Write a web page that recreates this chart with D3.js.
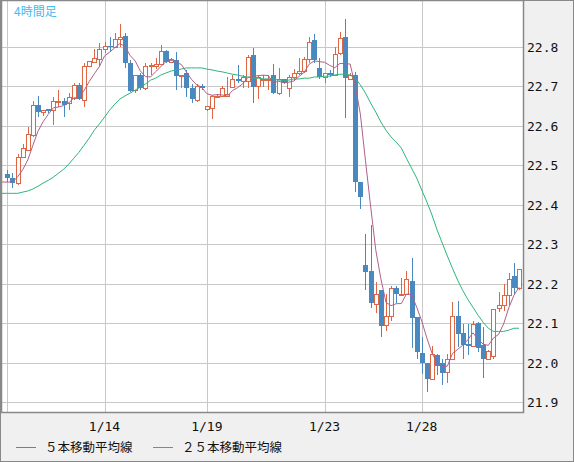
<!DOCTYPE html>
<html><head><meta charset="utf-8">
<script src="https://cdn.jsdelivr.net/npm/d3@7"></script>
<style>body{margin:0;background:#f0f0f0}svg{display:block}</style>
</head><body>
<script>
const opens  = [22.478,22.468,22.455,22.52,22.54,22.578,22.653,22.635,22.643,22.64,22.66,22.663,22.658,22.67,22.703,22.665,22.752,22.762,22.77,22.795,22.803,22.8,22.82,22.828,22.76,22.69,22.728,22.696,22.752,22.753,22.756,22.79,22.762,22.768,22.728,22.735,22.695,22.665,22.7,22.643,22.645,22.675,22.675,22.675,22.698,22.72,22.713,22.715,22.78,22.7,22.72,22.718,22.73,22.683,22.718,22.695,22.725,22.735,22.74,22.77,22.817,22.748,22.723,22.733,22.73,22.785,22.825,22.72,22.728,22.457,22.248,22.232,22.148,22.183,22.095,22.118,22.188,22.172,22.175,22.208,22.115,22.025,22.0,21.958,22.02,21.998,21.975,22.01,22.118,22.075,22.047,22.043,22.1,22.045,22.01,22.017,22.138,22.145,22.172,22.22,22.19];
const highs  = [22.488,22.48,22.53,22.553,22.598,22.663,22.675,22.64,22.643,22.673,22.69,22.67,22.683,22.71,22.71,22.76,22.765,22.795,22.81,22.813,22.825,22.835,22.858,22.835,22.767,22.728,22.735,22.76,22.76,22.772,22.805,22.792,22.772,22.788,22.73,22.742,22.705,22.705,22.705,22.65,22.678,22.68,22.7,22.725,22.728,22.755,22.728,22.78,22.797,22.73,22.728,22.73,22.757,22.748,22.72,22.73,22.745,22.772,22.775,22.825,22.832,22.772,22.733,22.742,22.8,22.838,22.872,22.735,22.736,22.458,22.325,22.35,22.205,22.183,22.173,22.195,22.193,22.215,22.232,22.265,22.115,22.065,22.0,22.042,22.022,22.01,22.022,22.153,22.157,22.097,22.097,22.105,22.103,22.09,22.033,22.135,22.178,22.2,22.227,22.253,22.238];
const lows   = [22.458,22.442,22.45,22.518,22.54,22.572,22.622,22.625,22.633,22.602,22.648,22.622,22.64,22.665,22.665,22.648,22.75,22.76,22.75,22.785,22.788,22.797,22.8,22.747,22.685,22.683,22.69,22.69,22.73,22.745,22.755,22.76,22.76,22.69,22.695,22.673,22.657,22.66,22.69,22.638,22.617,22.673,22.673,22.672,22.695,22.71,22.695,22.695,22.658,22.667,22.698,22.69,22.68,22.678,22.705,22.673,22.715,22.73,22.735,22.76,22.76,22.72,22.71,22.723,22.727,22.78,22.62,22.718,22.432,22.39,22.183,22.138,22.125,22.065,22.08,22.105,22.152,22.172,22.172,22.038,22.01,21.972,21.925,21.958,21.968,21.942,21.947,22.008,22.04,22.01,22.018,22.04,22.028,21.96,22.008,22.008,22.127,22.13,22.147,22.173,22.185];
const closes = [22.468,22.455,22.52,22.545,22.58,22.653,22.635,22.64,22.638,22.663,22.663,22.653,22.673,22.703,22.668,22.752,22.765,22.772,22.795,22.803,22.8,22.82,22.825,22.76,22.688,22.728,22.696,22.753,22.755,22.756,22.79,22.762,22.77,22.727,22.73,22.695,22.668,22.7,22.695,22.65,22.675,22.677,22.695,22.68,22.72,22.713,22.725,22.775,22.698,22.725,22.72,22.72,22.683,22.718,22.708,22.725,22.735,22.74,22.77,22.812,22.767,22.725,22.733,22.73,22.782,22.822,22.722,22.728,22.457,22.42,22.23,22.15,22.173,22.092,22.118,22.188,22.175,22.175,22.213,22.113,22.027,21.998,21.958,22.022,21.992,21.973,22.01,22.118,22.073,22.045,22.043,22.098,22.037,22.01,22.03,22.135,22.145,22.17,22.213,22.188,22.238];
const priorCloses = [22.455,22.455,22.455,22.455];
const ma25 = [22.429,22.429,22.429,22.432,22.435,22.44,22.447,22.455,22.462,22.47,22.48,22.49,22.503,22.518,22.533,22.551,22.569,22.589,22.605,22.622,22.64,22.655,22.668,22.676,22.683,22.691,22.698,22.706,22.716,22.721,22.729,22.734,22.739,22.742,22.744,22.747,22.747,22.747,22.747,22.744,22.742,22.739,22.737,22.734,22.731,22.729,22.726,22.724,22.721,22.721,22.719,22.719,22.719,22.716,22.716,22.716,22.719,22.719,22.721,22.721,22.724,22.724,22.726,22.726,22.729,22.731,22.731,22.729,22.721,22.704,22.683,22.658,22.635,22.61,22.589,22.572,22.559,22.544,22.518,22.493,22.468,22.437,22.407,22.374,22.336,22.303,22.27,22.239,22.209,22.183,22.16,22.14,22.12,22.102,22.087,22.079,22.079,22.079,22.082,22.087,22.087];
const xTickIdx = [0,19,39,62,81];
const xTickLabels = ["","1/14","1/19","1/23","1/28"];
const yTicks = [21.9,22.0,22.1,22.2,22.3,22.4,22.5,22.6,22.7,22.8];

const W=574,H=462, L=2,T=1,R=523,B=412;
const svg=d3.select("body").append("svg").attr("width",W).attr("height",H);
svg.append("rect").attr("width",W).attr("height",H).attr("fill","#f0f0f0");
svg.append("rect").attr("x",0.5).attr("y",0.5).attr("width",W-1).attr("height",H-1).attr("fill","none").attr("stroke","#888");
svg.append("rect").attr("x",L).attr("y",T).attr("width",R-L).attr("height",B-T).attr("fill","#fff");
const x=d3.scaleLinear().domain([0,100]).range([7.3,519]);
const y=d3.scaleLinear().domain([21.9,22.8]).range([402,47]);
const g=svg.append("g").attr("shape-rendering","crispEdges");
g.selectAll(".hg").data(yTicks).join("line").attr("x1",L).attr("x2",R)
 .attr("y1",d=>Math.round(y(d))+0.5).attr("y2",d=>Math.round(y(d))+0.5).attr("stroke","#c8c8c8");
g.selectAll(".vg").data(xTickIdx).join("line").attr("y1",T).attr("y2",B)
 .attr("x1",d=>Math.round(x(d))+0.5).attr("x2",d=>Math.round(x(d))+0.5).attr("stroke","#c8c8c8");

// candles
const idx=d3.range(closes.length);
const up="#dd6644", dn="#4a88c0";
idx.forEach(i=>{
  const cx=Math.round(x(i))+0.5, isUp=closes[i]>=opens[i], col=isUp?up:dn;
  g.append("line").attr("x1",cx).attr("x2",cx).attr("y1",y(highs[i])).attr("y2",y(lows[i])).attr("stroke",col);
  const top=Math.round(y(Math.max(opens[i],closes[i]))), bot=Math.round(y(Math.min(opens[i],closes[i])));
  if(isUp){
    g.append("rect").attr("x",cx-2).attr("y",top+0.5).attr("width",4).attr("height",Math.max(1,bot-top)).attr("fill","#fff").attr("stroke",col);
  } else {
    g.append("rect").attr("x",cx-2.5).attr("y",top).attr("width",5).attr("height",Math.max(1,bot-top)).attr("fill",col);
  }
});
// MAs
const all=priorCloses.concat(closes);
const ma5=idx.map(i=>d3.mean(all.slice(i,i+5)));
const line=d3.line().x(d=>d[0]).y(d=>d[1]);
const pts=a=>[[L,y(a[0])]].concat(a.map((v,i)=>[x(i),y(v)]));
svg.append("path").attr("d",line(pts(ma25))).attr("fill","none").attr("stroke","#2db57a").attr("stroke-width",1);
svg.append("path").attr("d",line(pts(ma5))).attr("fill","none").attr("stroke","#b0608a").attr("stroke-width",1);

// plot border
svg.append("rect").attr("x",L-0.5).attr("y",T-0.5).attr("width",R-L+1).attr("height",B-T+1).attr("fill","none").attr("stroke","#888").attr("stroke-width",1.5);

const mono="'DejaVu Sans Mono', monospace";
svg.selectAll(".yl").data(yTicks).join("text").attr("x",527).attr("y",d=>y(d)+5)
 .attr("font-family",mono).attr("font-size",13).attr("fill","#111").text(d=>d.toFixed(1));
svg.selectAll(".xl").data(xTickIdx).join("text").attr("x",d=>x(d)).attr("y",431).attr("text-anchor","middle")
 .attr("font-family",mono).attr("font-size",13).attr("fill","#111").text((d,i)=>xTickLabels[i]);

svg.append("text").attr("x",14).attr("y",16).attr("font-family","'Noto Sans CJK JP'").attr("font-size",12).attr("fill","#44bbee").text("4時間足");

const cjk="'Noto Sans CJK JP'";
svg.append("line").attr("x1",16).attr("x2",36).attr("y1",447.5).attr("y2",447.5).attr("stroke","#b0608a");
svg.append("text").attr("x",45).attr("y",452).attr("font-family",cjk).attr("font-size",12.5).attr("fill","#111").text("５本移動平均線");
svg.append("line").attr("x1",153).attr("x2",173).attr("y1",447.5).attr("y2",447.5).attr("stroke","#2db57a");
svg.append("text").attr("x",182).attr("y",452).attr("font-family",cjk).attr("font-size",12.5).attr("fill","#111").text("２５本移動平均線");
</script>
</body></html>
